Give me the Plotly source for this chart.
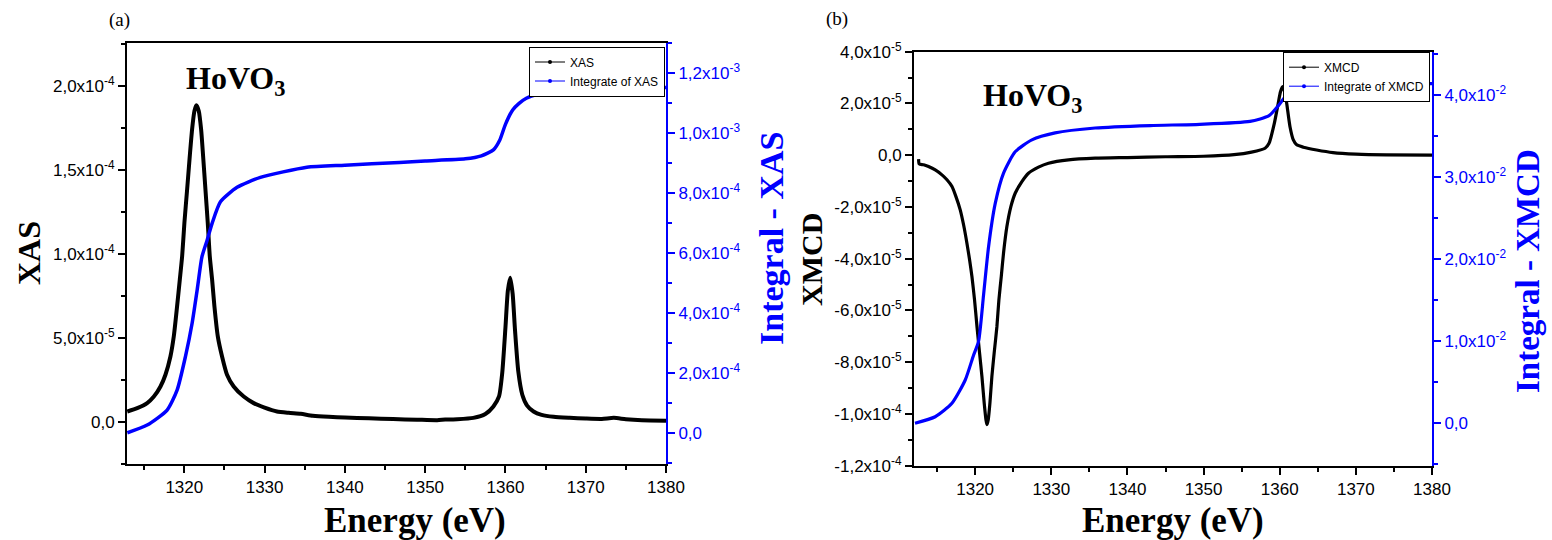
import plotly.graph_objects as go

# ---------------- data ----------------
# Panel (a): XAS and its integral
E_xas = [1312.89, 1314.13, 1315.37, 1316.21, 1317.03, 1317.65, 1318.27, 1318.69, 1319.1, 1319.44,
         1319.73, 1320.01, 1320.35, 1320.68, 1320.97, 1321.26, 1321.5, 1321.8, 1322.09, 1322.34,
         1322.63, 1322.92, 1323.17, 1323.46, 1323.75, 1324.17, 1324.7, 1325.32, 1326.15, 1327.4,
         1328.64, 1330.0, 1331.54, 1333.0, 1334.5, 1336.0, 1338.0, 1340.0, 1343.0, 1346.0,
         1349.0, 1351.5, 1352.5, 1354.0, 1356.0, 1357.5, 1358.5, 1359.2, 1359.6, 1360.0,
         1360.3, 1360.6, 1360.9, 1361.2, 1361.6, 1362.1, 1362.7, 1363.5, 1364.5, 1366.0,
         1368.0, 1370.0, 1372.0, 1373.5, 1375.0, 1377.0, 1380.0]
xas = [5.97e-6, 8.0e-6, 1.1e-5, 1.49e-5, 2.09e-5, 2.79e-5, 3.88e-5, 5.08e-5, 6.87e-5, 8.47e-5,
       9.86e-5, 1.185e-4, 1.384e-4, 1.583e-4, 1.743e-4, 1.852e-4, 1.886e-4, 1.852e-4, 1.743e-4, 1.583e-4,
       1.384e-4, 1.185e-4, 9.86e-5, 8.47e-5, 6.87e-5, 5.08e-5, 3.88e-5, 2.79e-5, 2.09e-5, 1.49e-5,
       1.1e-5, 8.3e-6, 6.0e-6, 5.2e-6, 4.6e-6, 3.5e-6, 2.8e-6, 2.4e-6, 1.9e-6, 1.5e-6,
       1.1e-6, 0.8e-6, 1.2e-6, 1.4e-6, 2.2e-6, 4.5e-6, 9.0e-6, 1.5e-5, 2.9e-5, 5.6e-5,
       7.8e-5, 8.58e-5, 7.6e-5, 5.4e-5, 3.0e-5, 1.6e-5, 9.5e-6, 6.0e-6, 4.0e-6, 2.8e-6,
       2.2e-6, 1.8e-6, 1.6e-6, 2.2e-6, 1.4e-6, 0.8e-6, 0.5e-6]

E_int_xas = [1312.9, 1315.37, 1317.86, 1319.1, 1320.14, 1320.97, 1321.6, 1322.2, 1322.84,
             1323.46, 1324.5, 1326.57, 1329.47, 1335.27, 1340.0, 1346.8, 1350.0, 1355.0,
             1357.0, 1358.5, 1359.3, 1360.0, 1360.9, 1361.7, 1362.6, 1364.0, 1365.5, 1368.0,
             1372.0, 1376.0, 1380.0]
int_xas = [2.0e-6, 2.77e-5, 7.77e-5, 1.44e-4, 2.56e-4, 3.67e-4, 4.78e-4, 5.89e-4, 6.44e-4,
           7.0e-4, 7.72e-4, 8.2e-4, 8.53e-4, 8.87e-4, 8.94e-4, 9.03e-4, 9.08e-4, 9.15e-4,
           9.25e-4, 9.45e-4, 9.78e-4, 1.03e-3, 1.078e-3, 1.10e-3, 1.117e-3, 1.13e-3, 1.135e-3,
           1.142e-3, 1.147e-3, 1.150e-3, 1.153e-3]

# Panel (b): XMCD and its integral
E_xmcd = [1312.57, 1312.66, 1313.23, 1313.88, 1314.76, 1315.64, 1316.3, 1316.96, 1317.48, 1318.04,
          1318.48, 1318.92, 1319.27, 1319.58, 1319.92, 1320.24, 1320.58, 1320.89, 1321.19, 1321.42,
          1321.55, 1321.72, 1321.94, 1322.2, 1322.5, 1322.86, 1323.12, 1323.43, 1323.73, 1324.17,
          1324.7, 1325.26, 1326.14, 1327.0, 1328.32, 1329.63, 1332.26, 1335.76, 1340.0, 1345.0,
          1350.0, 1354.0, 1356.3, 1358.08, 1358.6, 1359.3, 1359.8, 1360.1, 1360.38, 1360.65,
          1360.92, 1361.35, 1361.79, 1362.23, 1363.1, 1364.85, 1367.0, 1370.0, 1374.0, 1380.0]
xmcd = [-1.5e-6, -3.4e-6, -3.7e-6, -4.4e-6, -5.7e-6, -7.6e-6, -9.5e-6, -1.21e-5, -1.6e-5, -2.11e-5,
        -2.69e-5, -3.4e-5, -4.04e-5, -4.69e-5, -5.59e-5, -6.62e-5, -7.64e-5, -8.55e-5, -9.58e-5, -1.022e-4,
        -1.041e-4, -1.022e-4, -9.58e-5, -8.55e-5, -7.64e-5, -6.62e-5, -5.59e-5, -4.69e-5, -3.78e-5, -2.76e-5,
        -1.98e-5, -1.47e-5, -1.02e-5, -6.95e-6, -4.6e-6, -3.1e-6, -1.8e-6, -1.16e-6, -0.9e-6, -0.6e-6,
        -0.4e-6, 0.2e-6, 1.2e-6, 2.7e-6, 4.6e-6, 1.24e-5, 2.0e-5, 2.45e-5, 2.65e-5, 2.45e-5,
        2.0e-5, 1.1e-5, 5.9e-6, 4.0e-6, 3.1e-6, 2.0e-6, 1.0e-6, 0.4e-6, 0.1e-6, 0.0]

E_int_xmcd = [1312.1, 1314.76, 1316.95, 1318.7, 1319.79, 1320.45, 1321.1, 1321.76, 1322.64,
              1323.73, 1325.26, 1327.45, 1330.5, 1335.76, 1343.0, 1349.5, 1356.1, 1358.6,
              1359.9, 1360.9, 1362.2, 1364.8, 1369.2, 1380.0]
int_xmcd = [0.0, 8.0e-4, 2.44e-3, 5.28e-3, 8.3e-3, 1.0e-2, 1.56e-2, 2.15e-2, 2.68e-2,
            3.05e-2, 3.31e-2, 3.455e-2, 3.54e-2, 3.60e-2, 3.63e-2, 3.645e-2, 3.68e-2, 3.75e-2,
            3.88e-2, 4.0e-2, 4.07e-2, 4.11e-2, 4.125e-2, 4.14e-2]

# tick labels
x_ticks = [1320, 1330, 1340, 1350, 1360, 1370, 1380]
ya_vals = [0, 5e-5, 1e-4, 1.5e-4, 2e-4]
ya_text = ["0,0", "5,0x10<sup>-5</sup>", "1,0x10<sup>-4</sup>", "1,5x10<sup>-4</sup>", "2,0x10<sup>-4</sup>"]
ya2_vals = [0, 2e-4, 4e-4, 6e-4, 8e-4, 1e-3, 1.2e-3]
ya2_text = ["0,0", "2,0x10<sup>-4</sup>", "4,0x10<sup>-4</sup>", "6,0x10<sup>-4</sup>",
            "8,0x10<sup>-4</sup>", "1,0x10<sup>-3</sup>", "1,2x10<sup>-3</sup>"]
yb_vals = [-1.2e-4, -1e-4, -8e-5, -6e-5, -4e-5, -2e-5, 0, 2e-5, 4e-5]
yb_text = ["-1,2x10<sup>-4</sup>", "-1,0x10<sup>-4</sup>", "-8,0x10<sup>-5</sup>", "-6,0x10<sup>-5</sup>",
           "-4,0x10<sup>-5</sup>", "-2,0x10<sup>-5</sup>", "0,0", "2,0x10<sup>-5</sup>", "4,0x10<sup>-5</sup>"]
yb2_vals = [0, 1e-2, 2e-2, 3e-2, 4e-2]
yb2_text = ["0,0", "1,0x10<sup>-2</sup>", "2,0x10<sup>-2</sup>", "3,0x10<sup>-2</sup>", "4,0x10<sup>-2</sup>"]

# ---------------- figure ----------------
W, H = 1552, 540
BLUE = "#0000FF"
SANS = "Liberation Sans, Arial, sans-serif"
SERIF = "Liberation Serif, Times New Roman, serif"
TICKF = dict(family=SANS, size=17, color="black")
TICKF_B = dict(family=SANS, size=17, color=BLUE)

fig = go.Figure()

fig.add_trace(go.Scatter(x=E_xas, y=xas, mode="lines", line=dict(color="black", width=4, shape="spline", smoothing=0.6),
                         xaxis="x", yaxis="y", showlegend=False))
fig.add_trace(go.Scatter(x=E_int_xas, y=int_xas, mode="lines", line=dict(color=BLUE, width=3.5, shape="spline", smoothing=0.6),
                         xaxis="x", yaxis="y2", showlegend=False))
fig.add_trace(go.Scatter(x=E_xmcd, y=xmcd, mode="lines", line=dict(color="black", width=3.2, shape="spline", smoothing=0.6),
                         xaxis="x2", yaxis="y3", showlegend=False))
fig.add_trace(go.Scatter(x=E_int_xmcd, y=int_xmcd, mode="lines", line=dict(color=BLUE, width=3.2, shape="spline", smoothing=0.6),
                         xaxis="x2", yaxis="y4", showlegend=False))

# legend entries
fig.add_trace(go.Scatter(x=[None], y=[None], mode="lines+markers", name="XAS",
                         line=dict(color="black", width=1), marker=dict(size=4, color="black"),
                         xaxis="x", yaxis="y", legend="legend"))
fig.add_trace(go.Scatter(x=[None], y=[None], mode="lines+markers", name="Integrate of XAS",
                         line=dict(color=BLUE, width=1), marker=dict(size=4, color=BLUE),
                         xaxis="x", yaxis="y2", legend="legend"))
fig.add_trace(go.Scatter(x=[None], y=[None], mode="lines+markers", name="XMCD",
                         line=dict(color="black", width=1), marker=dict(size=4, color="black"),
                         xaxis="x2", yaxis="y3", legend="legend2"))
fig.add_trace(go.Scatter(x=[None], y=[None], mode="lines+markers", name="Integrate of XMCD",
                         line=dict(color=BLUE, width=1), marker=dict(size=4, color=BLUE),
                         xaxis="x2", yaxis="y4", legend="legend2"))

xa_dom = [127 / W, 666 / W]
xb_dom = [914 / W, 1432 / W]
ya_dom = [1 - 464 / H, 1 - 43.3 / H]
yb_dom = [1 - 465.7 / H, 1 - 51.7 / H]

common_x = dict(tickmode="array", tickvals=x_ticks, ticks="outside", ticklen=7, tickwidth=1.5,
                tickcolor="black", showline=True, linecolor="black", linewidth=2, mirror=True,
                showgrid=False, zeroline=False, tickfont=TICKF, automargin=False,
                minor=dict(tickmode="linear", tick0=1315, dtick=10, ticks="outside", ticklen=4,
                           tickwidth=1.5, tickcolor="black"))

fig.update_layout(
    width=W, height=H, margin=dict(l=0, r=0, t=0, b=0, autoexpand=False),
    paper_bgcolor="white", plot_bgcolor="white",
    xaxis=dict(domain=xa_dom, range=[1312.86, 1380], anchor="y", **common_x),
    yaxis=dict(domain=ya_dom, range=[-2.53e-5, 2.255e-4], anchor="x", tickmode="array",
               tickvals=ya_vals, ticktext=ya_text, ticks="outside", ticklen=7, tickwidth=1.5,
               tickcolor="black", showline=True, linecolor="black", linewidth=2,
               showgrid=False, zeroline=False, tickfont=TICKF, automargin=False,
               minor=dict(tickmode="linear", tick0=2.5e-5, dtick=5e-5, ticks="outside",
                          ticklen=4, tickwidth=1.5, tickcolor="black")),
    yaxis2=dict(domain=ya_dom, range=[-1.02e-4, 1.3e-3], anchor="x", overlaying="y", side="right",
                tickmode="array", tickvals=ya2_vals, ticktext=ya2_text, ticks="outside",
                ticklen=7, tickwidth=1.5, tickcolor=BLUE, showline=True, linecolor=BLUE,
                linewidth=2, showgrid=False, zeroline=False, tickfont=TICKF_B, automargin=False,
                minor=dict(tickmode="linear", tick0=1e-4, dtick=2e-4, ticks="outside",
                           ticklen=4, tickwidth=1.5, tickcolor=BLUE)),
    xaxis2=dict(domain=xb_dom, range=[1311.97, 1380], anchor="y3", **common_x),
    yaxis3=dict(domain=yb_dom, range=[-1.2e-4, 4e-5], anchor="x2", tickmode="array",
                tickvals=yb_vals, ticktext=yb_text, ticks="outside", ticklen=7, tickwidth=1.5,
                tickcolor="black", showline=True, linecolor="black", linewidth=2,
                showgrid=False, zeroline=False, tickfont=TICKF, automargin=False,
                minor=dict(tickmode="linear", tick0=1e-5, dtick=2e-5, ticks="outside",
                           ticklen=4, tickwidth=1.5, tickcolor="black")),
    yaxis4=dict(domain=yb_dom, range=[-0.517e-2, 4.53e-2], anchor="x2", overlaying="y3",
                side="right", tickmode="array", tickvals=yb2_vals, ticktext=yb2_text,
                ticks="outside", ticklen=7, tickwidth=1.5, tickcolor=BLUE, showline=True,
                linecolor=BLUE, linewidth=2, showgrid=False, zeroline=False, tickfont=TICKF_B,
                automargin=False,
                minor=dict(tickmode="linear", tick0=0.5e-2, dtick=1e-2, ticks="outside",
                           ticklen=4, tickwidth=1.5, tickcolor=BLUE)),
    legend=dict(x=665 / W, y=1 - 46.5 / H, xanchor="right", yanchor="top",
                bgcolor="white", bordercolor="black", borderwidth=1,
                font=dict(family=SANS, size=12, color="black"),
                itemwidth=30, tracegroupgap=0),
    legend2=dict(x=1430 / W, y=1 - 51.7 / H, xanchor="right", yanchor="top",
                 bgcolor="white", bordercolor="black", borderwidth=1,
                 font=dict(family=SANS, size=12, color="black"),
                 itemwidth=30, tracegroupgap=0),
)

def ann(text, x, y, size, color="black", bold=True, angle=0):
    t = f"<b>{text}</b>" if bold else text
    fig.add_annotation(text=t, x=x / W, y=1 - y / H, xref="paper", yref="paper",
                       xanchor="center", yanchor="middle", showarrow=False, textangle=angle,
                       font=dict(family=SERIF, size=size, color=color))

ann("(a)", 119, 20, 19, bold=False)
ann("(b)", 837, 19, 19, bold=False)
ann("HoVO<sub>3</sub>", 236, 80, 32)
ann("HoVO<sub>3</sub>", 1032, 98, 32)
ann("XAS", 29, 253, 32, angle=-90)
ann("Integral - XAS", 771, 239, 34, color=BLUE, angle=-90)
ann("XMCD", 812, 260, 30, angle=-90)
ann("Integral - XMCD", 1528, 271, 33, color=BLUE, angle=-90)
ann("Energy (eV)", 415, 520, 35)
ann("Energy (eV)", 1173, 520, 35)

fig.write_html("out.html", config={"displayModeBar": False},
               post_script="document.body.style.margin='0';document.body.style.overflow='hidden';")
